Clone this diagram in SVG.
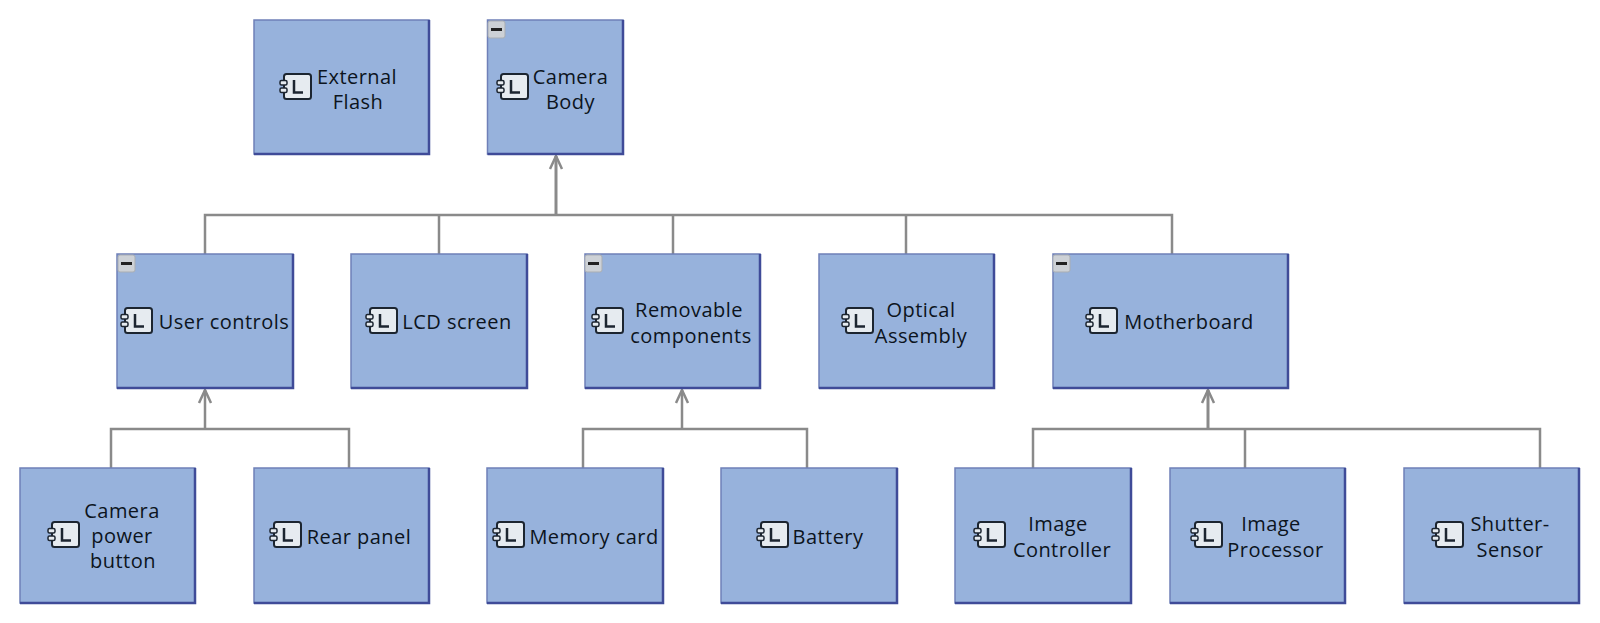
<svg xmlns="http://www.w3.org/2000/svg" width="1600" height="623" viewBox="0 0 1600 623">
<style>
.b{fill:#97b2dc;stroke:#6f80b8;stroke-width:1.500}
.e{fill:none;stroke:#3f4b98;stroke-width:2.500}
.t{font-family:"Open Sans","Noto Sans",sans-serif;font-size:20px;letter-spacing:.45px;fill:#0c1420;text-anchor:middle}
.c{fill:none;stroke:#8a8a8a;stroke-width:2.500}
.a{stroke-width:3}
.ib{fill:#e6ebf0;stroke:#1c2530;stroke-width:2}
.ip{fill:#e6ebf0;stroke:#1c2530;stroke-width:1.500}
.il{fill:none;stroke:#1c2530;stroke-width:2.500}
.m{fill:#cdd1d6;stroke:#a9adb3;stroke-width:1}
.mb{fill:#222}
</style>
<defs>
<marker id="ah" markerUnits="userSpaceOnUse" markerWidth="16" markerHeight="16" refX="14" refY="8" orient="auto"><path d="M1 2 L14 8 L1 14" fill="none" stroke="#8a8a8a" stroke-width="2.500"/></marker>
<g id="ico"><rect x="4" y="0" width="27" height="25" rx="2.500" class="ib"/><rect x="0" y="6.500" width="7" height="4.500" rx="1.500" class="ip"/><rect x="0" y="14" width="7" height="4.500" rx="1.500" class="ip"/><path d="M14 6 V18.500 H23" class="il"/></g>
<g id="mn"><rect x="0" y="0" width="17" height="17" rx="2" class="m"/><rect x="3" y="7" width="11" height="3" class="mb"/></g>
</defs>
<g id="connectors">
<path class="c" d="M205 254V215H1172V254M439 215V254M673 215V254M906 215V254"/>
<path class="c a" d="M556 215V156" marker-end="url(#ah)"/>
<path class="c" d="M111 468V429H349V468"/>
<path class="c" d="M205 429V390" marker-end="url(#ah)"/>
<path class="c" d="M583 468V429H807V468"/>
<path class="c" d="M682 429V390" marker-end="url(#ah)"/>
<path class="c" d="M1033 468V429H1540V468M1245 429V468"/>
<path class="c a" d="M1208 429V390" marker-end="url(#ah)"/>
</g>
<g id="external-flash"><rect class="b" x="254" y="20" width="175" height="134"/><path class="e" d="M429 20V154H254"/><use href="#ico" x="280" y="74"/><text class="t"><tspan x="357" y="84">External</tspan><tspan x="358" y="109">Flash</tspan></text></g>
<g id="camera-body"><rect class="b" x="487.500" y="20" width="135.500" height="134"/><path class="e" d="M623 20V154H487.500"/><use href="#ico" x="497" y="74"/><use href="#mn" x="488" y="21"/><text class="t"><tspan x="570.500" y="84">Camera</tspan><tspan x="570.500" y="109">Body</tspan></text></g>
<g id="user-controls"><rect class="b" x="117" y="254" width="176" height="134"/><path class="e" d="M293 254V388H117"/><use href="#ico" x="121" y="308"/><use href="#mn" x="118" y="255"/><text class="t" x="224" y="329">User controls</text></g>
<g id="lcd-screen"><rect class="b" x="351" y="254" width="176" height="134"/><path class="e" d="M527 254V388H351"/><use href="#ico" x="366" y="308"/><text class="t" x="457" y="329">LCD screen</text></g>
<g id="removable-components"><rect class="b" x="585" y="254" width="175" height="134"/><path class="e" d="M760 254V388H585"/><use href="#ico" x="592" y="308"/><use href="#mn" x="585" y="255"/><text class="t"><tspan x="689" y="317">Removable</tspan><tspan x="691" y="343">components</tspan></text></g>
<g id="optical-assembly"><rect class="b" x="819" y="254" width="175" height="134"/><path class="e" d="M994 254V388H819"/><use href="#ico" x="842" y="308"/><text class="t"><tspan x="921" y="317">Optical</tspan><tspan x="921" y="343">Assembly</tspan></text></g>
<g id="motherboard"><rect class="b" x="1053" y="254" width="235" height="134"/><path class="e" d="M1288 254V388H1053"/><use href="#ico" x="1086" y="308"/><use href="#mn" x="1053" y="255"/><text class="t" x="1189" y="329">Motherboard</text></g>
<g id="camera-power-button"><rect class="b" x="20" y="468" width="175" height="135"/><path class="e" d="M195 468V603H20"/><use href="#ico" x="48" y="522"/><text class="t"><tspan x="122" y="518">Camera</tspan><tspan x="122" y="543">power</tspan><tspan x="123" y="568">button</tspan></text></g>
<g id="rear-panel"><rect class="b" x="254" y="468" width="175" height="135"/><path class="e" d="M429 468V603H254"/><use href="#ico" x="270" y="522"/><text class="t" x="359" y="544">Rear panel</text></g>
<g id="memory-card"><rect class="b" x="487" y="468" width="176" height="135"/><path class="e" d="M663 468V603H487"/><use href="#ico" x="493" y="522"/><text class="t" x="594" y="544">Memory card</text></g>
<g id="battery"><rect class="b" x="721" y="468" width="176" height="135"/><path class="e" d="M897 468V603H721"/><use href="#ico" x="757" y="522"/><text class="t" x="828" y="544">Battery</text></g>
<g id="image-controller"><rect class="b" x="955" y="468" width="176" height="135"/><path class="e" d="M1131 468V603H955"/><use href="#ico" x="974" y="522"/><text class="t"><tspan x="1058" y="531">Image</tspan><tspan x="1062" y="557">Controller</tspan></text></g>
<g id="image-processor"><rect class="b" x="1170" y="468" width="175" height="135"/><path class="e" d="M1345 468V603H1170"/><use href="#ico" x="1191" y="522"/><text class="t"><tspan x="1271" y="531">Image</tspan><tspan x="1275.500" y="557">Processor</tspan></text></g>
<g id="shutter-sensor"><rect class="b" x="1404" y="468" width="175" height="135"/><path class="e" d="M1579 468V603H1404"/><use href="#ico" x="1432" y="522"/><text class="t"><tspan x="1510" y="531">Shutter-</tspan><tspan x="1510" y="557">Sensor</tspan></text></g>
</svg>
